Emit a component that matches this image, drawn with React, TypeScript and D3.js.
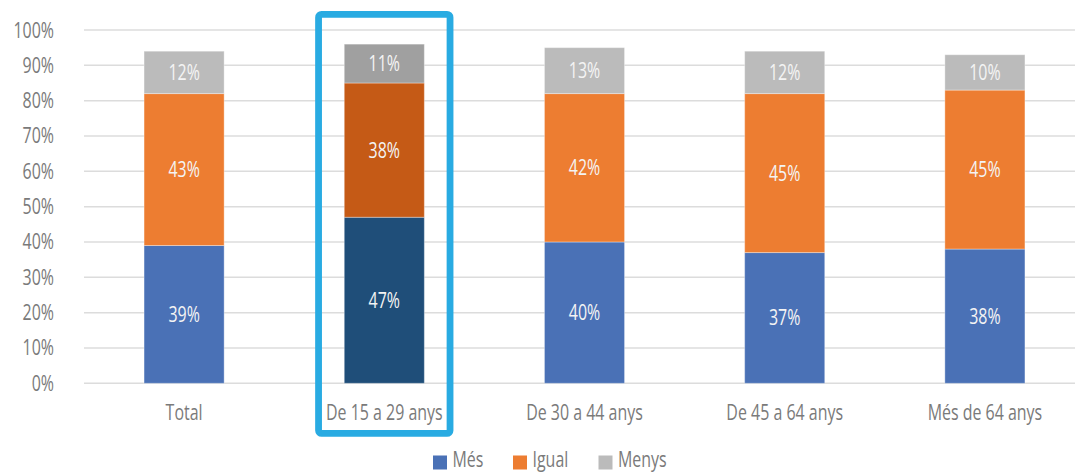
import React from "react";
import * as d3 from "d3";

// Age groups and share of responses (percent) per answer
const categories = ["Total", "De 15 a 29 anys", "De 30 a 44 anys", "De 45 a 64 anys", "Més de 64 anys"];
const mesValues = [39, 47, 40, 37, 38];
const igualValues = [43, 38, 42, 45, 45];
const menysValues = [12, 11, 13, 12, 10];
const seriesNames = ["Més", "Igual", "Menys"];
const yTicks = [0, 10, 20, 30, 40, 50, 60, 70, 80, 90, 100];
const highlighted = "De 15 a 29 anys";

const W = 1075;
const H = 473;
const FONT = "'Open Sans', 'Noto Sans', sans-serif";
const FS = 21;
const SX = 0.76; // horizontal compression for a condensed look

const baseColors = ["#4A71B6", "#ED7D31", "#BBBBBB"];
const darkColors = ["#1F4E79", "#C55A16", "#A0A0A0"];

type TxtProps = { x: number; y: number; anchor?: "start" | "middle" | "end"; fill: string; children: React.ReactNode };

function Txt({ x, y, anchor = "start", fill, children }: TxtProps) {
  return (
    <text transform={`translate(${x},${y}) scale(${SX},1)`} textAnchor={anchor} fontSize={FS} fill={fill}>
      {children}
    </text>
  );
}

export default function App() {
  const x = d3.scaleBand<string>().domain(categories).range([84, 1085]).paddingInner(0.6).paddingOuter(0.3);
  const y = d3.scaleLinear().domain([0, 100]).range([383.3, 30]);

  const rows = categories.map((c, i) => ({ cat: c, Més: mesValues[i], Igual: igualValues[i], Menys: menysValues[i] }));
  const stacked = d3.stack<any>().keys(seriesNames)(rows);

  const hx = x(highlighted)!;
  const bw = x.bandwidth();
  const legendX = [433, 513, 598.5];

  return (
    <div style={{ position: "fixed", left: 0, top: 0 }}>
      <svg width={W} height={H} style={{ display: "block", background: "#fff" }} fontFamily={FONT}>
        {/* gridlines */}
        {yTicks.map((t) => (
          <line key={t} x1={84} x2={W} y1={y(t)} y2={y(t)} stroke="#DCDCDC" strokeWidth={1.5} />
        ))}
        {/* y tick labels */}
        {yTicks.map((t) => (
          <Txt key={"l" + t} x={54} y={y(t) + 7.5} anchor="end" fill="#7A7A7A">
            {t}%
          </Txt>
        ))}
        {/* stacked bars */}
        {stacked.map((s, si) =>
          s.map((d, i) => {
            const cat = categories[i];
            const isHi = cat === highlighted;
            const x0 = x(cat)!;
            const y0 = y(d[1]);
            const h = y(d[0]) - y(d[1]);
            return (
              <g key={si + "-" + i}>
                <rect
                  x={x0}
                  y={y0}
                  width={bw}
                  height={h}
                  fill={isHi ? darkColors[si] : baseColors[si]}
                  stroke="#ffffff"
                  strokeOpacity={0.35}
                  strokeWidth={1}
                />
                <Txt x={x0 + bw / 2} y={y0 + h / 2 + 7.5} anchor="middle" fill="#F4F4F4">
                  {d[1] - d[0]}%
                </Txt>
              </g>
            );
          })
        )}
        {/* category labels */}
        {categories.map((c) => (
          <Txt key={c} x={x(c)! + bw / 2} y={420} anchor="middle" fill="#7A7A7A">
            {c}
          </Txt>
        ))}
        {/* highlight frame */}
        <rect
          x={hx - 25.7}
          y={14.4}
          width={bw + 51.4}
          height={419}
          fill="none"
          stroke="#29ABE2"
          strokeWidth={6.8}
          rx={3}
        />
        {/* legend */}
        {seriesNames.map((n, i) => {
          const lx = legendX[i];
          return (
            <g key={n}>
              <rect x={lx} y={455.5} width={14} height={14} fill={baseColors[i]} />
              <Txt x={lx + 19.5} y={467} fill="#7A7A7A">
                {n}
              </Txt>
            </g>
          );
        })}
      </svg>
    </div>
  );
}
